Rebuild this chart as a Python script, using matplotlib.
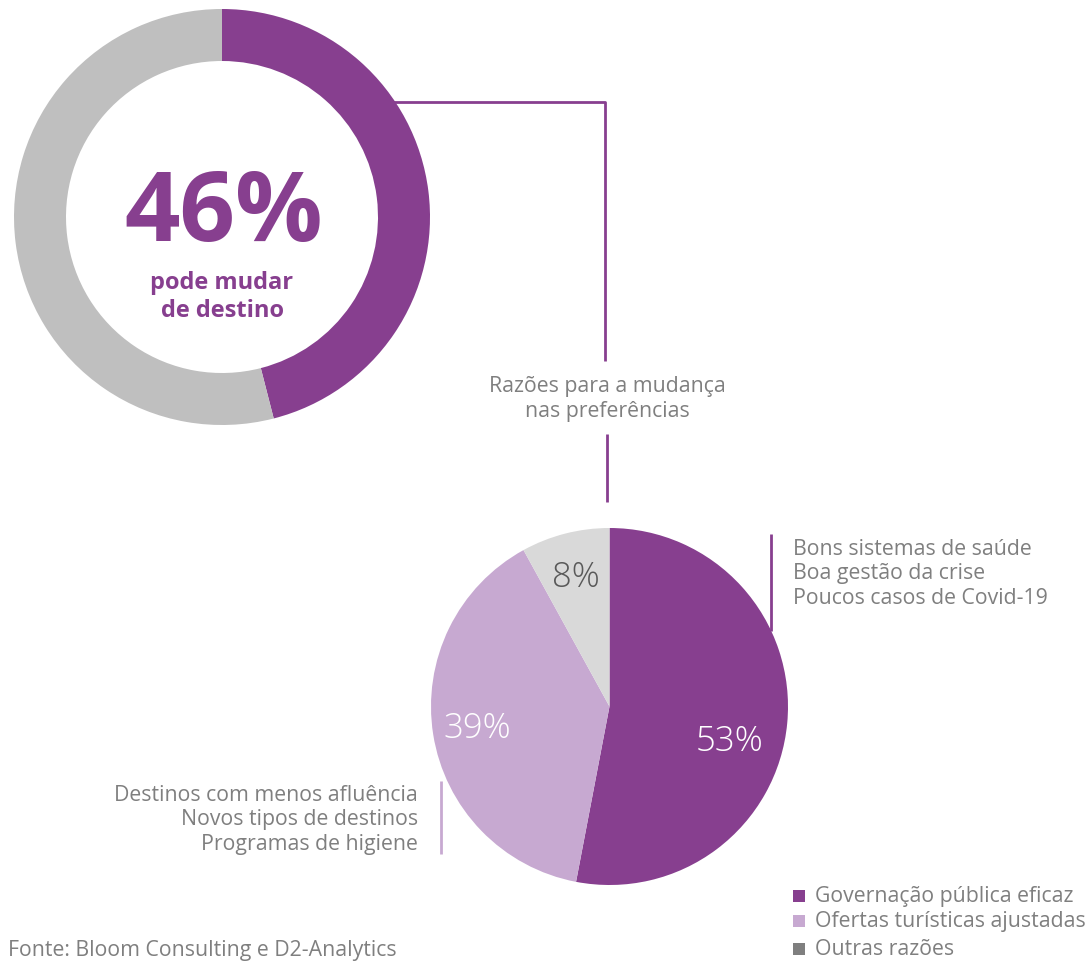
import matplotlib
matplotlib.use("Agg")
import matplotlib.pyplot as plt
from matplotlib.patches import Rectangle

plt.rcParams['font.family'] = ['Open Sans', 'DejaVu Sans']

# ---- data ----
donut_labels = ["pode mudar de destino", "restante"]
donut_values = [46, 54]
donut_big_label = "46%"
donut_sub_label = "pode mudar\nde destino"

pie_categories = ["Governação pública eficaz", "Ofertas turísticas ajustadas", "Outras razões"]
pie_values = [53, 39, 8]
pie_title = "Razões para a mudança\nnas preferências"
reasons_gov = ["Bons sistemas de saúde", "Boa gestão da crise", "Poucos casos de Covid-19"]
reasons_ofertas = ["Destinos com menos afluência", "Novos tipos de destinos", "Programas de higiene"]
source = "Fonte: Bloom Consulting e D2-Analytics"

# ---- styles ----
PURPLE = "#873F8F"
LILAC = "#C7A9D1"
LGRAY = "#D9D9D9"
DGRAY = "#BFBFBF"
TXT = "#7F7F7F"
LEG3 = "#7F7F7F"
FS = 15.3

W, H = 1088, 962
fig = plt.figure(figsize=(W / 100, H / 100), dpi=100)
ax = fig.add_axes([0, 0, 1, 1])

def Y(y):
    return H - y

# donut
ax.pie(donut_values, colors=[PURPLE, DGRAY], startangle=90, counterclock=False,
       center=(222, Y(218)), radius=208, wedgeprops=dict(width=52, linewidth=0))
ax.text(224, Y(216), donut_big_label, ha="center", va="center", fontsize=70,
        fontweight="bold", color=PURPLE)
ax.text(222, Y(297), donut_sub_label, ha="center", va="center", fontsize=17,
        fontweight="bold", color=PURPLE, linespacing=1.2)

# pie
wedges, texts, autotexts = ax.pie(
    pie_values, colors=[PURPLE, LILAC, LGRAY], startangle=90, counterclock=False,
    center=(609.5, Y(707.5)), radius=178.5, wedgeprops=dict(linewidth=0),
    autopct=lambda p: f"{p:.0f}%", pctdistance=0.75,
    textprops=dict(fontsize=25, fontweight="light"))
for t, c in zip(autotexts, ["white", "white", "#595959"]):
    t.set_color(c)
x0, y0 = autotexts[0].get_position()
autotexts[0].set_position((x0 - 13, y0 - 22))

# connector lines
ax.plot([393, 605, 605], [Y(103), Y(103), Y(362)], color=PURPLE, lw=2, solid_capstyle="butt")
ax.plot([607, 607], [Y(435), Y(503)], color=PURPLE, lw=2, solid_capstyle="butt")
ax.plot([771, 771], [Y(535), Y(632)], color=PURPLE, lw=2, solid_capstyle="butt")
ax.plot([441, 441], [Y(782), Y(855)], color=LILAC, lw=2, solid_capstyle="butt")

ax.text(607, Y(399), pie_title, ha="center", va="center", fontsize=FS,
        color=TXT, linespacing=1.28)

ax.text(793, Y(574), "\n".join(reasons_gov), ha="left", va="center", fontsize=FS,
        color=TXT, linespacing=1.24)
ax.text(418, Y(820), "\n".join(reasons_ofertas), ha="right", va="center", fontsize=FS,
        color=TXT, linespacing=1.24)

# legend
leg_colors = [PURPLE, LILAC, LEG3]
leg_y = [897, 922, 950]
for lab, col, yy in zip(pie_categories, leg_colors, leg_y):
    ax.add_patch(Rectangle((793, Y(yy) - 6), 12, 12, color=col, lw=0))
    ax.text(815, Y(yy), lab, ha="left", va="center", fontsize=FS, color=TXT)

ax.text(8, Y(951), source, ha="left", va="center", fontsize=FS, color=TXT)

ax.set_xlim(0, W)
ax.set_ylim(0, H)
ax.set_aspect("equal")
ax.axis("off")
fig.savefig("out.png", dpi=100)
